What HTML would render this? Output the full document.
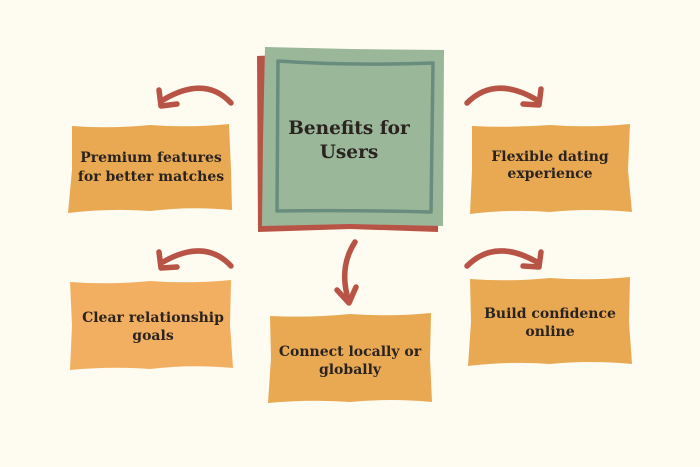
<!DOCTYPE html>
<html><head><meta charset="utf-8"><style>
html,body{margin:0;padding:0;background:#FEFBF0;}
svg{display:block}
text{font-family:"DejaVu Serif","Liberation Serif",serif;font-weight:bold;fill:#2a2320;text-anchor:middle}
</style></head><body>
<svg width="700" height="467" viewBox="0 0 700 467" xmlns="http://www.w3.org/2000/svg">
<rect width="700" height="467" fill="#FEFBF0"/>
<path d="M257,56 L300,54 L440,57 L438,232 L350,229 L258,232 Z" fill="#B85445"/>
<path d="M265,47 L350,49 L444,50 L443,226 L350,224 L262,226 L263,140 Z" fill="#9BB79A"/>
<path d="M278,61 Q350,66 433,63 L431,212 Q350,210 277,211 Z" fill="none" stroke="#688C7E" stroke-width="3.5" stroke-linejoin="round"/>
<text x="349" y="134" font-size="18.5">Benefits for</text>
<text x="349" y="158" font-size="18.5">Users</text>
<path d="M72,126 Q110,129 150,125 Q190,128 229,124 L231,170 L232,210 Q190,206 150,211 Q110,208 68,213 L72,170 Z" fill="#E8A952"/>
<text x="151" y="162" font-size="14">Premium features</text>
<text x="151" y="181" font-size="14">for better matches</text>
<path d="M472,126 Q510,128 550,125 Q590,128 630,124 L628,170 L632,212 Q590,208 550,212 Q510,209 470,214 L472,170 Z" fill="#E8A952"/>
<text x="550" y="161" font-size="14">Flexible dating</text>
<text x="550" y="178" font-size="14">experience</text>
<path d="M70,282 Q110,285 150,281 Q190,284 231,280 L230,325 L233,368 Q190,364 150,369 Q110,366 70,370 L72,325 Z" fill="#F2AF61"/>
<text x="153" y="322" font-size="14">Clear relationship</text>
<text x="153" y="340" font-size="14">goals</text>
<path d="M270,316 Q310,318 350,314 Q390,317 431,313 L430,358 L432,402 Q390,398 350,402 Q310,399 268,403 L271,358 Z" fill="#E8A952"/>
<text x="350" y="356" font-size="14">Connect locally or</text>
<text x="350" y="374" font-size="14">globally</text>
<path d="M470,279 Q510,282 550,278 Q590,281 630,277 L629,322 L632,364 Q590,360 550,364 Q510,361 468,366 L471,322 Z" fill="#E8A952"/>
<text x="550" y="318" font-size="14">Build confidence</text>
<text x="550" y="336" font-size="14">online</text>
<g fill="none" stroke="#B85445" stroke-width="5.5" stroke-linecap="round" stroke-linejoin="round">
<path d="M231,103 Q205,75 163,100"/>
<path d="M159,90 L161,106 L177,104"/>
<path d="M231,266 Q205,238 163,262"/>
<path d="M159,252 L161,268 L177,267"/>
<path d="M467,103 Q495,75 537,100"/>
<path d="M541,89 L539,105 L523,104"/>
<path d="M467,266 Q495,238 537,262"/>
<path d="M541,252 L539,267 L523,266"/>
<path d="M355,242 Q338,268 349,302"/>
<path d="M337,290 L349,303 L356,287"/>
</g>
</svg>
</body></html>
